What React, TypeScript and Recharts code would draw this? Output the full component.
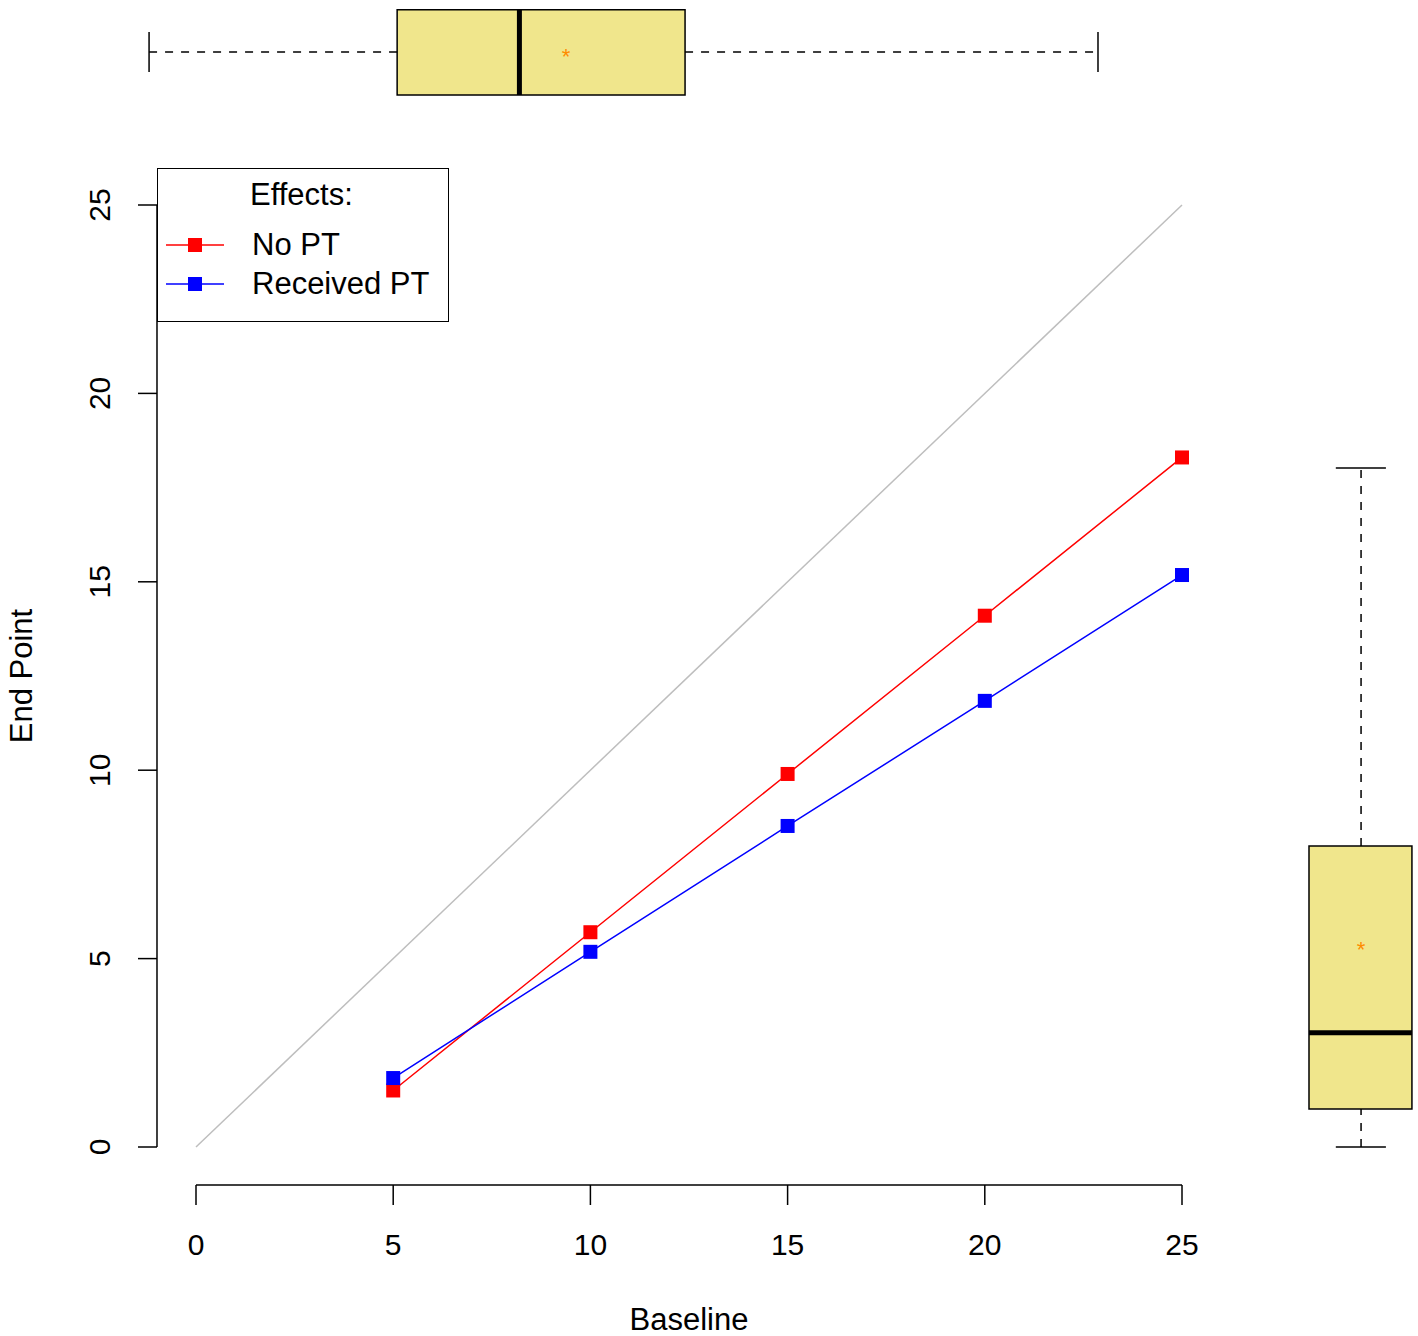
import { ComposedChart, Line, XAxis, YAxis, ReferenceLine, ReferenceArea, ReferenceDot } from 'recharts'

const baseline = [5, 10, 15, 20, 25]
const noPT = [1.5, 5.7, 9.9, 14.1, 18.3]
const receivedPT = [1.83, 5.18, 8.52, 11.84, 15.18]
const ticks = [0, 5, 10, 15, 20, 25]

// marginal boxplots: [whiskerLow, q1, median, q3, whiskerHigh, mean]
const baselineBox = [-1.19, 5.1, 8.2, 12.4, 22.87, 9.38]
const endpointBox = [0, 1.01, 3.03, 7.99, 18.02, 5.36]

const data = baseline.map((b, i) => ({ b, noPT: noPT[i], pt: receivedPT[i] }))

const FONT = '"Liberation Sans", Arial, sans-serif'

const square = (color: string) => (p: any) => (
  <rect key={p.key ?? p.index} x={p.cx - 7} y={p.cy - 7} width={14} height={14} fill={color} />
)

const star = (p: any) => (
  <text x={p.cx} y={p.cy + 12} textAnchor="middle" fill="#ff8c00" fontSize={22} fontFamily={FONT}>*</text>
)

export default function App() {
  const [bLo, bQ1, bMed, bQ3, bHi, bMean] = baselineBox
  const [eLo, eQ1, eMed, eQ3, eHi, eMean] = endpointBox
  const tY = 29.06
  const tX = 29.54
  return (
    <div style={{ position: 'absolute', left: 0, top: 0, width: 1418, height: 1336, background: '#fff', fontFamily: FONT }}>
      <ComposedChart width={1418} height={1336} data={data} margin={{ left: 195, right: 236, top: 205, bottom: 188 }}>
        <XAxis dataKey="b" type="number" domain={[0, 25]} ticks={ticks} axisLine={false} tickLine={false} tickSize={0} tickMargin={0}
          height={1} interval={0}
          tick={(p: any) => (
            <g>
              <line x1={p.x} x2={p.x} y1={1185} y2={1205} stroke="#000" strokeWidth={1.5} />
              <text x={p.x} y={1255} textAnchor="middle" fontSize={30} fontFamily={FONT}>{p.payload.value}</text>
            </g>
          )} />
        <YAxis type="number" domain={[0, 25]} ticks={ticks} axisLine={false} tickLine={false} tickSize={0} tickMargin={0}
          width={1} interval={0}
          tick={(p: any) => (
            <g>
              <line x1={157} x2={138} y1={p.y} y2={p.y} stroke="#000" strokeWidth={1.5} />
              <text x={0} y={0} transform={`translate(${110},${p.y}) rotate(-90)`} textAnchor="middle" fontSize={30} fontFamily={FONT}>{p.payload.value}</text>
            </g>
          )} />
        <ReferenceLine segment={[{ x: 0, y: -1.008 }, { x: 25, y: -1.008 }]} stroke="#000" strokeWidth={1.5} ifOverflow="visible" />
        <ReferenceLine segment={[{ x: -0.989, y: 0 }, { x: -0.989, y: 25 }]} stroke="#000" strokeWidth={1.5} ifOverflow="visible" />
        <ReferenceLine segment={[{ x: 0, y: 0 }, { x: 25, y: 25 }]} stroke="#bebebe" strokeWidth={1.5} ifOverflow="visible" />

        {/* top boxplot */}
        <ReferenceLine segment={[{ x: bLo, y: tY }, { x: bQ1, y: tY }]} stroke="#000" strokeDasharray="8 8" strokeWidth={1.5} ifOverflow="visible" />
        <ReferenceLine segment={[{ x: bQ3, y: tY }, { x: bHi, y: tY }]} stroke="#000" strokeDasharray="8 8" strokeWidth={1.5} ifOverflow="visible" />
        <ReferenceLine segment={[{ x: bLo, y: 28.53 }, { x: bLo, y: 29.59 }]} stroke="#000" strokeWidth={1.5} ifOverflow="visible" />
        <ReferenceLine segment={[{ x: bHi, y: 28.53 }, { x: bHi, y: 29.59 }]} stroke="#000" strokeWidth={1.5} ifOverflow="visible" />
        <ReferenceArea x1={bQ1} x2={bQ3} y1={27.92} y2={30.18} fill="#f0e68c" fillOpacity={1} stroke="#000" strokeWidth={1.5} ifOverflow="visible" />
        <ReferenceLine segment={[{ x: bMed, y: 27.92 }, { x: bMed, y: 30.18 }]} stroke="#000" strokeWidth={5} ifOverflow="visible" />
        <ReferenceDot x={bMean} y={tY} ifOverflow="visible" shape={star} />

        {/* right boxplot */}
        <ReferenceLine segment={[{ x: tX, y: eLo }, { x: tX, y: eQ1 }]} stroke="#000" strokeDasharray="8 8" strokeWidth={1.5} ifOverflow="visible" />
        <ReferenceLine segment={[{ x: tX, y: eQ3 }, { x: tX, y: eHi }]} stroke="#000" strokeDasharray="8 8" strokeWidth={1.5} ifOverflow="visible" />
        <ReferenceLine segment={[{ x: 28.9, y: eLo }, { x: 30.17, y: eLo }]} stroke="#000" strokeWidth={1.5} ifOverflow="visible" />
        <ReferenceLine segment={[{ x: 28.9, y: eHi }, { x: 30.17, y: eHi }]} stroke="#000" strokeWidth={1.5} ifOverflow="visible" />
        <ReferenceArea x1={28.22} x2={30.83} y1={eQ1} y2={eQ3} fill="#f0e68c" fillOpacity={1} stroke="#000" strokeWidth={1.5} ifOverflow="visible" />
        <ReferenceLine segment={[{ x: 28.22, y: eMed }, { x: 30.83, y: eMed }]} stroke="#000" strokeWidth={5} ifOverflow="visible" />
        <ReferenceDot x={tX} y={eMean} ifOverflow="visible" shape={star} />

        <Line dataKey="noPT" stroke="#ff0000" strokeWidth={1.5} dot={square('#ff0000')} isAnimationActive={false} />
        <Line dataKey="pt" stroke="#0000ff" strokeWidth={1.5} dot={square('#0000ff')} isAnimationActive={false} />
      </ComposedChart>

      <div style={{ position: 'absolute', left: 157, top: 168, width: 290, height: 152, border: '1.5px solid #000', background: '#fff', fontSize: 31 }}>
        <div style={{ position: 'absolute', left: 92, top: 8 }}>Effects:</div>
        {[['No PT', '#ff0000', 58], ['Received PT', '#0000ff', 97]].map(([name, color, top]) => (
          <div key={name as string} style={{ position: 'absolute', left: 6, top: top as number, display: 'flex', alignItems: 'center' }}>
            <svg width={62} height={36}>
              <line x1={2} x2={60} y1={18} y2={18} stroke={color as string} strokeWidth={1.5} />
              <rect x={24} y={11} width={14} height={14} fill={color as string} />
            </svg>
            <span style={{ marginLeft: 26 }}>{name}</span>
          </div>
        ))}
      </div>
      <div style={{ position: 'absolute', left: 689, top: 1302, transform: 'translateX(-50%)', fontSize: 31 }}>Baseline</div>
      <div style={{ position: 'absolute', left: 22, top: 676, transform: 'translate(-50%,-50%) rotate(-90deg)', fontSize: 31, whiteSpace: 'nowrap' }}>End Point</div>
    </div>
  )
}
